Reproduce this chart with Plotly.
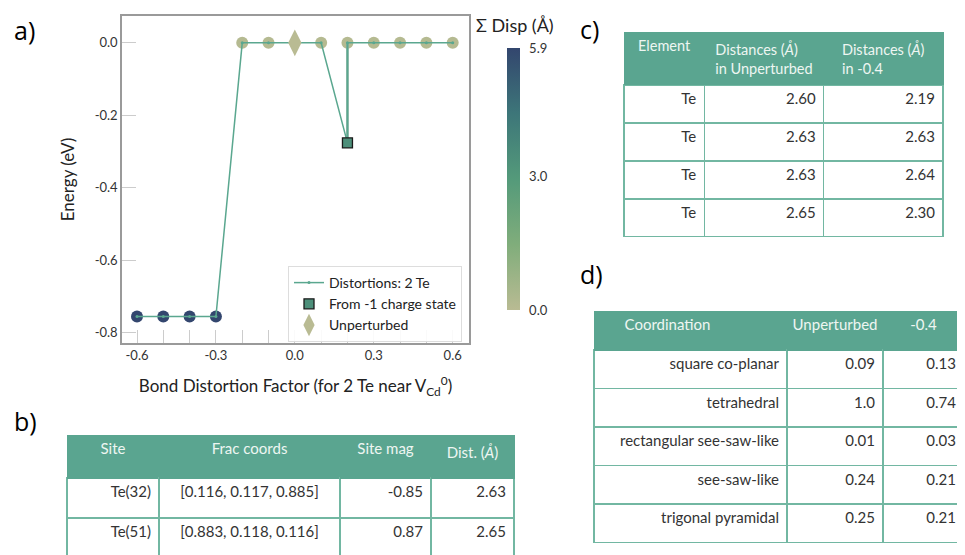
import plotly.graph_objects as go

# ---------------- Panel a) data ----------------
distortions = [-0.6, -0.5, -0.4, -0.3, -0.2, -0.1, 0.1, 0.2, 0.3, 0.4, 0.5, 0.6]
energies = [-0.755, -0.755, -0.755, -0.755, 0.0, 0.0, 0.0, 0.0, 0.0, 0.0, 0.0, 0.0]
sum_disp = [5.9, 5.9, 5.9, 5.9, 0.1, 0.1, 0.1, 0.1, 0.1, 0.1, 0.1, 0.1]

charge_x = [0.2]
charge_energy = [-0.276]
charge_disp = [3.4]

unpert_x = [0.0]
unpert_energy = [0.0]
unpert_disp = [0.0]

x_tick_vals = [-0.6, -0.3, 0.0, 0.3, 0.6]
x_tick_text = ["-0.6", "-0.3", "0.0", "0.3", "0.6"]
y_tick_vals = [0.0, -0.2, -0.4, -0.6, -0.8]
y_tick_text = ["0.0", "-0.2", "-0.4", "-0.6", "-0.8"]
cbar_vals = [0.0, 3.0, 5.9]
cbar_text = ["0.0", "3.0", "5.9"]

# ---------------- Panel b) data ----------------
b_header = ["Site", "Frac coords", "Site mag", "Dist. (<i>Å</i>)"]
b_site = ["Te(32)", "Te(51)"]
b_frac = ["[0.116, 0.117, 0.885]", "[0.883, 0.118, 0.116]"]
b_mag = ["-0.85", "0.87"]
b_dist = ["2.63", "2.65"]

# ---------------- Panel c) data ----------------
c_header = ["Element", "Distances (<i>Å</i>)<br>in Unperturbed", "Distances (<i>Å</i>)<br>in -0.4"]
c_element = ["Te", "Te", "Te", "Te"]
c_unpert = ["2.60", "2.63", "2.63", "2.65"]
c_m04 = ["2.19", "2.63", "2.64", "2.30"]

# ---------------- Panel d) data ----------------
d_header = ["Coordination", "Unperturbed", "-0.4"]
d_coord = ["square co-planar", "tetrahedral", "rectangular see-saw-like", "see-saw-like", "trigonal pyramidal"]
d_unpert = ["0.09", "1.0", "0.01", "0.24", "0.25"]
d_m04 = ["0.13", "0.74", "0.03", "0.21", "0.21"]

# ---------------- styling ----------------
FONT = "Lato"
W, H = 965, 555
OFF = 8  # page body margin offset
colorscale = [[0.0, "#b9bb93"], [0.25, "#80ad7b"], [0.5, "#549a7a"],
              [0.75, "#3d7679"], [1.0, "#33466e"]]
CMIN, CMAX = 0.0, 5.9
LINE_COLOR = "#5aa78f"
HEAD_FILL = "#5aa590"
HEAD_FONT = "#eef6f2"
CELL_LINE = "#72b7a2"
NBSP = "\u00a0"


def px(xp):
    return (xp - OFF) / W


def py(yp):
    return 1 - (yp - OFF) / H


fig = go.Figure()

# circles coloured by summed displacement
fig.add_trace(go.Scatter(
    x=distortions, y=energies, mode="markers", showlegend=False,
    marker=dict(size=12, color=sum_disp, colorscale=colorscale, cmin=CMIN, cmax=CMAX,
                line=dict(width=0),
                colorbar=dict(x=px(507), xanchor="left", y=py(48), yanchor="top",
                              xpad=0, ypad=0, thickness=13, len=262, lenmode="pixels",
                              outlinewidth=0, tickvals=cbar_vals, ticktext=cbar_text,
                              ticks="outside", ticklen=7, tickcolor="rgba(0,0,0,0)",
                              tickfont=dict(size=13, color="#333"))),
    hoverinfo="skip"))

# line through all points, sorted along the distortion axis
pts = [(x, e) for x, e in zip(distortions, energies)]
pts += list(zip(unpert_x, unpert_energy))
pts += list(zip(charge_x, charge_energy))
pts.sort(key=lambda p: (p[0], p[1]))
line_x = [p[0] for p in pts]
line_y = [p[1] for p in pts]

# connection of the other-charge-state point (thicker, greyish)
conn_e = energies[distortions.index(charge_x[0])]
fig.add_trace(go.Scatter(
    x=[charge_x[0], charge_x[0]], y=[charge_energy[0], conn_e], mode="lines",
    line=dict(color="#7fae9c", width=2.6), showlegend=False, hoverinfo="skip"))

fig.add_trace(go.Scatter(
    x=line_x, y=line_y, mode="lines+markers", name="Distortions: 2 Te",
    line=dict(color=LINE_COLOR, width=1.5),
    marker=dict(size=3, color=LINE_COLOR)))

fig.add_trace(go.Scatter(
    x=charge_x, y=charge_energy, mode="markers", name="From -1 charge state",
    marker=dict(symbol="square", size=10, color=charge_disp, colorscale=colorscale,
                cmin=CMIN, cmax=CMAX, line=dict(color="#1a1a1a", width=1.3))))

fig.add_trace(go.Scatter(
    x=unpert_x, y=unpert_energy, mode="markers", name="Unperturbed",
    marker=dict(symbol="diamond-tall", size=19, color=unpert_disp, colorscale=colorscale,
                cmin=CMIN, cmax=CMAX, line=dict(width=0))))

fig.update_xaxes(
    domain=[px(122), px(469)], range=[-0.657, 0.662],
    tickvals=x_tick_vals, ticktext=x_tick_text,
    ticks="inside", ticklen=13, tickcolor="#cccccc", tickwidth=1,
    minor=dict(dtick=0.1, tick0=0, ticks="inside", ticklen=13, tickcolor="#cccccc", tickwidth=1),
    showgrid=False, zeroline=False,
    showline=True, mirror=True, linecolor="#9a9a9a", linewidth=1.5,
    tickfont=dict(size=13, color="#333"),
    title=dict(text="Bond Distortion Factor (for 2 Te near V<sub>Cd</sub><sup>0</sup>)",
               font=dict(size=17, color="#222"), standoff=18))

fig.update_yaxes(
    domain=[py(343), py(16)], range=[-0.828, 0.074],
    tickvals=y_tick_vals, ticktext=y_tick_text,
    ticks="inside", ticklen=14, tickcolor="#cccccc", tickwidth=1,
    showgrid=False, zeroline=False,
    showline=True, mirror=True, linecolor="#9a9a9a", linewidth=1.5,
    tickfont=dict(size=13, color="#333"),
    title=dict(text="Energy (eV)", font=dict(size=17, color="#222"), standoff=16))

# ---------------- tables ----------------
HF = 15   # header font size
CF = 15   # cell font size

fig.add_trace(go.Table(
    domain=dict(x=[px(67), px(515)], y=[0.0, py(435)]),
    columnwidth=[92, 181, 91, 83],
    header=dict(values=b_header, fill_color=HEAD_FILL, line=dict(color=HEAD_FILL, width=1),
                font=dict(family=FONT, size=HF, color=HEAD_FONT), align="center", height=43),
    cells=dict(values=[b_site, b_frac, b_mag, b_dist],
               fill_color="white", line=dict(color=CELL_LINE, width=1.5),
               font=dict(family=FONT, size=CF, color="#333"),
               align=["right", "center", "right", "right"], height=40)))

fig.add_trace(go.Table(
    domain=dict(x=[px(624), px(943)], y=[py(237), py(32)]),
    columnwidth=[80, 119, 119],
    header=dict(values=c_header, fill_color=HEAD_FILL, line=dict(color=HEAD_FILL, width=1),
                font=dict(family=FONT, size=14.5, color=HEAD_FONT), align="center", height=51),
    cells=dict(values=[c_element, c_unpert, c_m04],
               fill_color="white", line=dict(color=CELL_LINE, width=1.5),
               font=dict(family=FONT, size=CF, color="#333"),
               align="right", height=38)))

# first header label of table d sits a little left of its column centre
d_head_vals = [d_header[0] + NBSP * 12] + d_header[1:]
fig.add_trace(go.Table(
    domain=dict(x=[px(594), px(964)], y=[py(548), py(311)]),
    columnwidth=[193, 96, 81],
    header=dict(values=d_head_vals, fill_color=HEAD_FILL, line=dict(color=HEAD_FILL, width=1),
                font=dict(family=FONT, size=HF, color=HEAD_FONT), align="center", height=39),
    cells=dict(values=[d_coord, d_unpert, d_m04],
               fill_color="white", line=dict(color=CELL_LINE, width=1.5),
               font=dict(family=FONT, size=CF, color="#333"),
               align="right", height=38.5)))

# ---------------- annotations ----------------
annots = []
for label, xx, yy in [("a)", 12, 30), ("b)", 12, 421), ("c)", 578, 29), ("d)", 578, 274)]:
    annots.append(dict(text=label, x=px(xx), y=py(yy), xref="paper", yref="paper",
                       xanchor="left", yanchor="middle", showarrow=False,
                       font=dict(family="Open Sans", size=25, color="#000")))
annots.append(dict(text="Σ Disp (Å)", x=px(474), y=py(25), xref="paper", yref="paper",
                   xanchor="left", yanchor="middle", showarrow=False,
                   font=dict(family=FONT, size=18, color="#222")))

fig.update_layout(
    width=W, height=H, margin=dict(l=0, r=0, t=0, b=0, pad=0),
    paper_bgcolor="white", plot_bgcolor="white",
    font=dict(family=FONT, size=13, color="#333"),
    annotations=annots,
    legend=dict(x=px(288), y=py(266), xanchor="left", yanchor="top",
                bgcolor="rgba(255,255,255,0.9)", bordercolor="#dddddd", borderwidth=1,
                font=dict(size=14, color="#222"), tracegroupgap=0),
)

fig.write_html("out.html")
